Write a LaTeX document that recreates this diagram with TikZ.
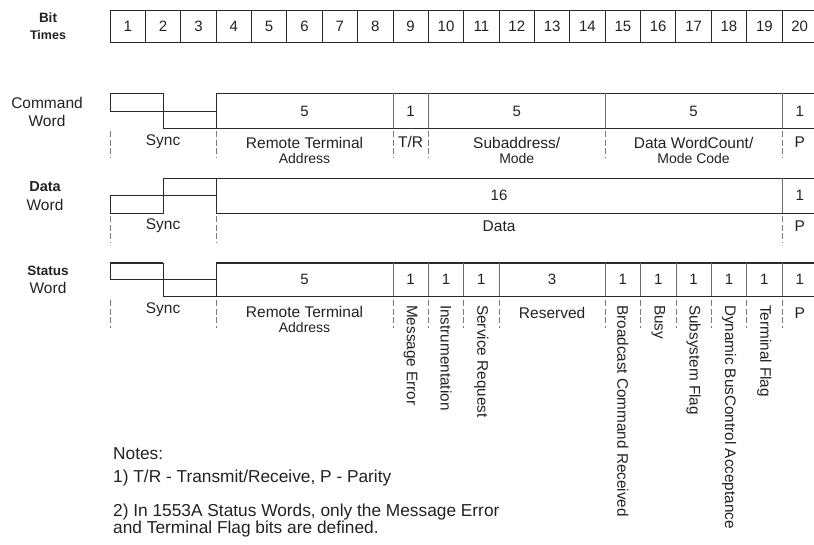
\documentclass[tikz,border=0pt]{standalone}
\usepackage{fontspec}
\setmainfont{Liberation Sans}
\usepackage{tikz}
\usetikzlibrary{positioning}
\definecolor{LineGray}{HTML}{2B2B2B}
\definecolor{SepGray}{HTML}{6A6A6A}
\definecolor{TickGray}{HTML}{7A7A7A}
\definecolor{InkGray}{HTML}{222222}

\begin{document}
\begin{tikzpicture}[
  x=1pt,y=-1pt,
  wire/.style={draw=LineGray,line width=0.9pt},
  heavy/.style={draw=LineGray,line width=1.8pt},
  sep/.style={draw=SepGray,line width=0.8pt},
  tick/.style={draw=TickGray,line width=0.8pt,dash pattern=on 6pt off 2.5pt},
  num/.style={font=\fontsize{15}{17}\selectfont,text=InkGray,inner sep=0pt},
  lbl/.style={font=\fontsize{15.5}{17}\selectfont,text=InkGray,inner sep=0pt},
  sub/.style={font=\fontsize{14}{16}\selectfont,text=InkGray,inner sep=0pt},
  vlbl/.style={font=\fontsize{15.3}{17}\selectfont,text=InkGray,rotate=-90,anchor=west,inner sep=0pt},
  side/.style={font=\fontsize{15.5}{17}\selectfont,text=InkGray,inner sep=0pt},
  note/.style={font=\fontsize{17.3}{19}\selectfont,text=InkGray,anchor=base west,inner sep=0pt}
]
\useasboundingbox (0,0) rectangle (814,544);

\node[side,font=\fontsize{13.5}{15}\selectfont\bfseries] (bitlbl) at (48,18) {Bit};
\node[side,font=\fontsize{12.5}{14}\selectfont\bfseries] (timeslbl) at (48,35) {Times};
\node[side] (cmdlbl) at (47,103) {Command};
\node[side] (cmdword) at (47,121) {Word};
\node[side,font=\fontsize{14.5}{16}\selectfont\bfseries] (datalbl) at (45,187) {Data};
\node[side] (dataword) at (45,205) {Word};
\node[side,font=\fontsize{13.5}{15}\selectfont\bfseries] (statlbl) at (48,271) {Status};
\node[side] (statword) at (48,288) {Word};

\begin{scope}[xshift=74.63pt,x=35.37pt]
\foreach \i in {1,...,20}{
  \draw[wire] (\i,10) rectangle (\i+1,42);
  \node[num] (bit\i) at (\i+0.5,26) {\i};
}
\draw[heavy] (8,10) -- (8,42) (13,10) -- (13,42);

\draw[wire] (1,93) -- (2.5,93) -- (2.5,128) -- (4,128);
\draw[wire] (1,93) -- (1,111) -- (4,111);
\draw[wire] (4,93) rectangle (21,128);
\foreach \b in {9,10,15,20} \draw[sep] (\b,93) -- (\b,128);
\foreach \b in {1,4,9,10,15,20} \draw[tick] (\b,131) -- (\b,157);
\node[num] (cmdrtn) at (6.5,111) {5};
\node[num] (cmdtrn) at (9.5,111) {1};
\node[num] (cmdsan) at (12.5,111) {5};
\node[num] (cmdwcn) at (17.5,111) {5};
\node[num] (cmdpn) at (20.5,111) {1};
\node[lbl] (cmdsync) at (2.5,142) {Sync};
\node[lbl] (cmdrt) at (6.5,143) {Remote Terminal};
\node[sub,below=4.5pt of cmdrt] (cmdrtb) {Address};
\node[lbl] (cmdtr) at (9.5,142) {T/R};
\node[lbl] (cmdsa) at (12.5,143) {Subaddress/};
\node[sub,below=4.5pt of cmdsa] (cmdsab) {Mode};
\node[lbl] (cmdwc) at (17.5,143) {Data WordCount/};
\node[sub,below=4.5pt of cmdwc] (cmdwcb) {Mode Code};
\node[lbl] (cmdp) at (20.5,142) {P};

\draw[wire] (1,195) -- (1,213) -- (2.5,213) -- (2.5,178) -- (4,178);
\draw[wire] (1,195) -- (4,195);
\draw[wire] (4,178) rectangle (21,213);
\draw[sep] (20,178) -- (20,213);
\foreach \b in {1,4,20} \draw[tick] (\b,216) -- (\b,242);
\node[num] (datan) at (12,195) {16};
\node[num] (datapn) at (20.5,195) {1};
\node[lbl] (datasync) at (2.5,226) {Sync};
\node[lbl] (datadata) at (12,226) {Data};
\node[lbl] (datap) at (20.5,226) {P};

\draw[wire] (1,279) -- (1,263) (2.5,263) -- (2.5,296) -- (4,296);
\draw[heavy] (1,263) -- (2.5,263) (4,263) -- (21,263);
\draw[wire] (1,279) -- (4,279);
\draw[wire] (4,263) -- (4,296) -- (21,296);
\foreach \b in {9,10,11,12,15,16,17,18,19,20} \draw[sep] (\b,263) -- (\b,296);
\foreach \b in {1,4,9,10,11,12,15,16,17,18,19,20} \draw[tick] (\b,300) -- (\b,328);
\node[num] (statrtn) at (6.5,279) {5};
\foreach \b in {9,10,11,15,16,17,18,19,20}
  \node[num] (statn\b) at (\b+0.5,279) {1};
\node[num] (statresn) at (13.5,279) {3};
\node[lbl] (statsync) at (2.5,310) {Sync};
\node[lbl] (statrt) at (6.5,312) {Remote Terminal};
\node[sub,below=4.5pt of statrt] (statrtb) {Address};
\node[vlbl] (staterr) at (9.5,305) {Message Error};
\node[vlbl] (statinst) at (10.5,305) {Instrumentation};
\node[vlbl] (statsrq) at (11.5,305) {Service Request};
\node[lbl] (statres) at (13.5,313) {Reserved};
\node[vlbl] (statbcr) at (15.5,305) {Broadcast Command Received};
\node[vlbl] (statbusy) at (16.5,305) {Busy};
\node[vlbl] (statsub) at (17.5,305) {Subsystem Flag};
\node[vlbl] (statdbc) at (18.5,305) {Dynamic BusControl Acceptance};
\node[vlbl] (statterm) at (19.5,305) {Terminal Flag};
\node[lbl] (statp) at (20.5,313) {P};
\end{scope}

\node[note] (notes) at (113,459) {Notes:};
\node[note] (note1) at (113,482) {1) T/R - Transmit/Receive, P - Parity};
\node[note] (note2) at (113,516) {2) In 1553A Status Words, only the Message Error};
\node[note] (note3) at (113,533) {and Terminal Flag bits are defined.};
\end{tikzpicture}
\end{document}
